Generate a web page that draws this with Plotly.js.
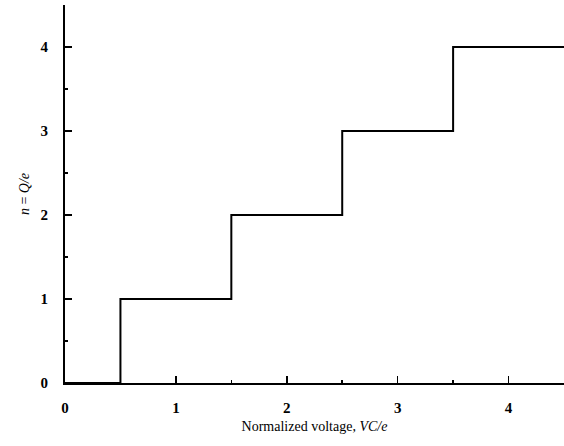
<!DOCTYPE html>
<html>
<head>
<meta charset="utf-8">
<script src="https://cdn.plot.ly/plotly-3.0.1.min.js"></script>
<style>html,body{margin:0;padding:0;background:#fff;}#chart{width:564px;height:446px;}</style>
</head>
<body>
<div id="chart"></div>
<script>
// Step data: normalized voltage VC/e vs charge number n = Q/e
const voltage = [0, 0.5, 1.5, 2.5, 3.5, 4.5];
const charge = [0, 1, 2, 3, 4, 4];
const xTicks = [0, 1, 2, 3, 4];
const yTicks = [0, 1, 2, 3, 4];

const trace = {
  x: voltage,
  y: charge,
  mode: 'lines',
  line: {shape: 'hv', color: '#000', width: 2},
  hoverinfo: 'skip'
};

const fontFam = '"Liberation Serif", "DejaVu Serif", serif';
const layout = {
  width: 564, height: 446,
  margin: {l: 65, r: 0, t: 5, b: 63},
  paper_bgcolor: '#fff', plot_bgcolor: '#fff',
  showlegend: false,
  font: {family: fontFam, color: '#000', size: 14},
  xaxis: {
    range: [0, 4.5], showgrid: false, zeroline: false,
    showline: true, linecolor: '#000', linewidth: 2,
    ticks: 'inside', ticklen: 7, tickwidth: 1.5, tickcolor: '#000',
    tickvals: xTicks, ticktext: xTicks.map(String),
    ticklabelstandoff: 10,
    tickfont: {family: fontFam, size: 15, color: '#000', weight: 'bold'},
    minor: {dtick: 0.5, tick0: 0, ticks: 'inside', ticklen: 3, tickwidth: 1.5, tickcolor: '#000'},
    title: {text: 'Normalized voltage, <i>VC/e</i>', font: {family: fontFam, size: 14, color: '#000'}, standoff: 6}
  },
  yaxis: {
    range: [0, 4.5], showgrid: false, zeroline: false,
    showline: true, linecolor: '#000', linewidth: 2,
    ticks: 'inside', ticklen: 7, tickwidth: 1.5, tickcolor: '#000',
    tickvals: yTicks, ticktext: yTicks.map(String),
    ticklabelstandoff: 12,
    tickfont: {family: fontFam, size: 15, color: '#000', weight: 'bold'},
    minor: {dtick: 0.5, tick0: 0, ticks: 'inside', ticklen: 3, tickwidth: 1.5, tickcolor: '#000'},
    title: {text: '<i>n</i> = <i>Q/e</i>', font: {family: fontFam, size: 14, color: '#000'}, standoff: 8}
  }
};

Plotly.newPlot('chart', [trace], layout, {staticPlot: true, displayModeBar: false});
</script>
</body>
</html>
